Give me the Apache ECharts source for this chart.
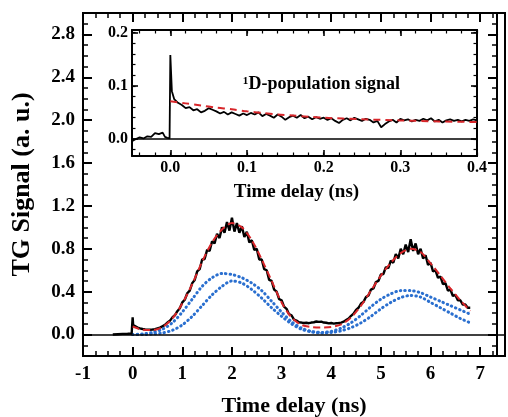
<!DOCTYPE html>
<html><head><meta charset="utf-8">
<script src="https://cdn.jsdelivr.net/npm/echarts@6/dist/echarts.min.js"></script>
<style>html,body{margin:0;padding:0;background:#fff}#c{width:508px;height:417px}</style>
</head><body><div id="c"></div>
<script>
// ---- tick labels ----
const mainTicksX = [-1, 0, 1, 2, 3, 4, 5, 6, 7];
const mainTicksY = [0, 0.4, 0.8, 1.2, 1.6, 2.0, 2.4, 2.8];
const insetTicksX = [0, 0.1, 0.2, 0.3, 0.4];
const insetTicksY = [0, 0.1, 0.2];

// ---- main panel: measured TG signal (black) [t, y] ----
const mainSignal = [
[-0.40,0.000],[-0.30,0.003],[-0.20,0.006],[-0.10,0.008],[-0.02,0.010],[0.00,0.160],[0.01,0.090],
[0.05,0.075],[0.10,0.065],[0.15,0.058],[0.20,0.052],[0.25,0.048],[0.30,0.046],[0.35,0.045],
[0.40,0.047],[0.45,0.050],[0.50,0.058],[0.55,0.065],[0.60,0.078],[0.65,0.090],[0.70,0.112],
[0.75,0.128],[0.80,0.160],[0.85,0.180],[0.90,0.218],[0.95,0.245],[1.00,0.300],[1.05,0.325],
[1.10,0.385],[1.15,0.410],[1.20,0.480],[1.25,0.510],[1.30,0.590],[1.35,0.610],[1.40,0.700],
[1.45,0.705],[1.50,0.790],[1.55,0.780],[1.60,0.870],[1.65,0.850],[1.70,0.940],[1.75,0.900],
[1.80,1.000],[1.85,0.950],[1.90,1.050],[1.95,0.970],[2.00,1.090],[2.05,0.960],[2.10,1.040],
[2.15,0.950],[2.20,1.010],[2.25,0.910],[2.30,0.960],[2.35,0.860],[2.40,0.880],[2.45,0.790],
[2.50,0.800],[2.55,0.700],[2.60,0.700],[2.65,0.610],[2.70,0.600],[2.75,0.510],[2.80,0.500],
[2.85,0.420],[2.90,0.400],[2.95,0.330],[3.00,0.320],[3.05,0.260],[3.10,0.240],[3.15,0.190],
[3.20,0.180],[3.25,0.140],[3.30,0.130],[3.35,0.115],[3.40,0.112],[3.45,0.108],[3.50,0.110],
[3.55,0.106],[3.60,0.112],[3.65,0.115],[3.70,0.122],[3.75,0.118],[3.80,0.120],[3.85,0.112],
[3.90,0.110],[3.95,0.104],[4.00,0.108],[4.05,0.102],[4.10,0.105],[4.15,0.108],[4.20,0.112],
[4.25,0.120],[4.30,0.135],[4.35,0.150],[4.40,0.175],[4.45,0.195],[4.50,0.230],[4.55,0.250],
[4.60,0.290],[4.65,0.305],[4.70,0.350],[4.75,0.365],[4.80,0.420],[4.85,0.430],[4.90,0.490],
[4.95,0.500],[5.00,0.560],[5.05,0.565],[5.10,0.630],[5.15,0.620],[5.20,0.690],[5.25,0.670],
[5.30,0.750],[5.35,0.710],[5.40,0.800],[5.45,0.750],[5.50,0.840],[5.55,0.770],[5.60,0.890],
[5.65,0.780],[5.70,0.850],[5.75,0.750],[5.80,0.800],[5.85,0.710],[5.90,0.740],[5.95,0.650],
[6.00,0.670],[6.05,0.590],[6.10,0.600],[6.15,0.530],[6.20,0.540],[6.25,0.470],[6.30,0.480],
[6.35,0.410],[6.40,0.420],[6.45,0.360],[6.50,0.370],[6.55,0.320],[6.60,0.320],[6.65,0.280],
[6.70,0.280],[6.75,0.250],[6.80,0.250]
];

// ---- main panel: fit (red dashed) and two components (blue dotted) ----
const fitT = [0.0,0.2,0.4,0.6,0.8,1.0,1.2,1.4,1.6,1.8,2.0,2.2,2.4,2.6,2.8,3.0,3.2,3.4,3.6,3.8,4.0,4.2,4.4,4.6,4.8,5.0,5.2,5.4,5.6,5.8,6.0,6.2,6.4,6.6,6.8];
const fitTotal = [0.075,0.045,0.042,0.070,0.150,0.290,0.470,0.680,0.860,0.980,1.040,1.000,0.880,0.700,0.500,0.300,0.160,0.090,0.070,0.065,0.070,0.095,0.160,0.270,0.410,0.550,0.670,0.760,0.800,0.770,0.665,0.550,0.430,0.320,0.220];
const compA = [0.000,0.005,0.020,0.050,0.110,0.210,0.330,0.450,0.530,0.570,0.560,0.530,0.480,0.410,0.310,0.210,0.120,0.060,0.030,0.020,0.030,0.060,0.110,0.180,0.260,0.330,0.380,0.410,0.410,0.390,0.350,0.310,0.270,0.230,0.190];
const compB = [0.000,0.000,0.005,0.015,0.040,0.090,0.170,0.270,0.370,0.450,0.500,0.480,0.420,0.340,0.250,0.170,0.100,0.050,0.025,0.015,0.020,0.035,0.065,0.110,0.170,0.240,0.300,0.345,0.365,0.350,0.300,0.250,0.200,0.150,0.110];

// ---- inset: 1D-population signal (black) [t, y] ----
const insetSignal = [
[-0.050,-0.004],[-0.045,0.000],[-0.040,0.003],[-0.035,0.001],[-0.030,0.005],[-0.025,0.004],
[-0.020,0.011],[-0.015,0.009],[-0.010,0.012],[-0.007,0.004],[-0.004,0.002],[-0.001,0.001],
[0.000,0.158],[0.002,0.090],[0.005,0.075],[0.010,0.068],[0.015,0.064],[0.020,0.058],[0.025,0.060],
[0.030,0.054],[0.035,0.056],[0.040,0.050],[0.045,0.053],[0.050,0.058],[0.055,0.055],[0.060,0.052],
[0.065,0.048],[0.070,0.051],[0.075,0.046],[0.080,0.050],[0.085,0.047],[0.090,0.044],[0.095,0.048],
[0.100,0.045],[0.105,0.049],[0.110,0.046],[0.115,0.050],[0.120,0.043],[0.125,0.047],[0.130,0.044],
[0.135,0.040],[0.140,0.046],[0.145,0.042],[0.150,0.036],[0.155,0.041],[0.160,0.044],[0.165,0.040],
[0.170,0.045],[0.175,0.039],[0.180,0.042],[0.185,0.037],[0.190,0.041],[0.195,0.038],[0.200,0.040],
[0.205,0.036],[0.210,0.039],[0.215,0.034],[0.220,0.030],[0.225,0.036],[0.230,0.039],[0.235,0.035],
[0.240,0.040],[0.245,0.037],[0.250,0.034],[0.255,0.038],[0.260,0.036],[0.265,0.031],[0.270,0.034],
[0.275,0.022],[0.280,0.028],[0.285,0.033],[0.290,0.036],[0.295,0.031],[0.300,0.038],[0.305,0.035],
[0.310,0.037],[0.315,0.033],[0.320,0.036],[0.325,0.034],[0.330,0.038],[0.335,0.035],[0.340,0.039],
[0.345,0.033],[0.350,0.036],[0.355,0.031],[0.360,0.035],[0.365,0.037],[0.370,0.034],[0.375,0.036],
[0.380,0.033],[0.385,0.036],[0.390,0.034],[0.395,0.037],[0.400,0.035]
];
const insetFitT = [0.00,0.02,0.04,0.06,0.08,0.10,0.12,0.14,0.16,0.18,0.20,0.25,0.30,0.35,0.40];
const insetFit = [0.071,0.067,0.063,0.059,0.056,0.052,0.049,0.046,0.044,0.042,0.040,0.037,0.035,0.033,0.032];

// ---- layout ----
const FONT = "'Liberation Serif','DejaVu Serif',serif";
const FR_MAIN = { left: 83, top: 13, width: 422, height: 343, xr: [-1, 7.5], yr: [-0.2, 3.0] };
const FR_INSET = { left: 132, top: 30, width: 345, height: 126, xr: [-0.05, 0.4], yr: [-0.032, 0.205] };

function pairs(xs, ys) { return xs.map((x, i) => [x, ys[i]]); }
function inList(list, v) { return list.some(m => Math.abs(m - v) < 1e-6); }

const grids = [], xAxes = [], yAxes = [];
const LINE = { show: true, onZero: false, lineStyle: { color: '#000', width: 2 } };

// data grids: frame lines and axis titles (kept at their exact size)
function dataGrid(F, o) {
  const gi = grids.length;
  grids.push({ left: F.left, top: F.top, width: F.width, height: F.height, outerBoundsMode: 'none', containLabel: false });
  const ax = (pos, r, name, gap, nsize, pad) => ({
    type: 'value', gridIndex: gi, position: pos, min: r[0], max: r[1],
    name: name, nameLocation: 'middle', nameGap: gap,
    nameTextStyle: { fontFamily: FONT, fontWeight: 'bold', fontSize: nsize, color: '#000', padding: pad || 0 },
    axisLine: LINE, axisTick: { show: false }, axisLabel: { show: false }, splitLine: { show: false }
  });
  xAxes.push(ax('bottom', F.xr, o.xName, o.xGap, o.xNameSize, o.xPad));
  xAxes.push(ax('top', F.xr, '', 0, 10));
  yAxes.push(ax('left', F.yr, o.yName, o.yGap, o.yNameSize));
  yAxes.push(ax('right', F.yr, '', 0, 10));
}

// tick grids: same pixel scale as the frame, range starting on a multiple of the interval,
// so the library's own axis ticks / labels land on the right values
function tickGrid(kind, F, range, interval, len, lw, labels) {
  const gi = grids.length;
  const ax = (pos, showText) => ({
    type: 'value', gridIndex: gi, position: pos, min: range[0], max: range[1], interval: interval,
    axisLine: LINE, splitLine: { show: false },
    axisTick: { show: true, inside: true, length: len, lineStyle: { color: '#000', width: lw } },
    axisLabel: {
      show: true, margin: labels ? labels.margin : 8,
      formatter: v => (showText && labels && inList(labels.values, v)) ? labels.fmt(v) : '',
      fontFamily: FONT, fontWeight: 'bold', fontSize: labels ? labels.size : 10, color: '#000'
    }
  });
  const dummy = { type: 'value', gridIndex: gi, show: false, min: 0, max: 1 };
  if (kind === 'x') {
    const pxu = F.width / (F.xr[1] - F.xr[0]);
    grids.push({ left: F.left + (range[0] - F.xr[0]) * pxu, width: (range[1] - range[0]) * pxu,
      top: F.top, height: F.height });
    xAxes.push(ax('bottom', true)); xAxes.push(ax('top', false)); yAxes.push(dummy);
  } else {
    const pxu = F.height / (F.yr[1] - F.yr[0]);
    grids.push({ top: F.top + (F.yr[1] - range[1]) * pxu, height: (range[1] - range[0]) * pxu,
      left: F.left, width: F.width });
    yAxes.push(ax('left', true)); yAxes.push(ax('right', false)); xAxes.push(dummy);
  }
}

dataGrid(FR_MAIN, { xName: 'Time delay (ns)', xGap: 39, xNameSize: 22,
  yName: 'TG Signal (a. u.)', yGap: 48, yNameSize: 26 });
dataGrid(FR_INSET, { xName: 'Time delay (ns)', xGap: 27, xNameSize: 19, xPad: [0, 16, 0, 0],
  yName: '', yGap: 10, yNameSize: 10 });

tickGrid('x', FR_MAIN, [-1, 7.5], 1, 9, 2,
  { values: mainTicksX, fmt: v => String(Math.round(v)), size: 19, margin: 9 });
tickGrid('x', FR_MAIN, [-1, 7.5], 0.25, 5, 1.5, null);
tickGrid('y', FR_MAIN, [0, 2.8], 0.4, 9, 2,
  { values: mainTicksY, fmt: v => v.toFixed(1), size: 19, margin: 8 });
tickGrid('y', FR_MAIN, [-0.2, 3.0], 0.1, 5, 1.5, null);
tickGrid('x', FR_INSET, [0, 0.4], 0.1, 6, 1.6,
  { values: insetTicksX, fmt: v => v.toFixed(1), size: 16, margin: 4 });
tickGrid('x', FR_INSET, [-0.04, 0.4], 0.02, 3.5, 1.2, null);
tickGrid('y', FR_INSET, [0, 0.2], 0.1, 6, 1.6,
  { values: insetTicksY, fmt: v => v.toFixed(1), size: 16, margin: 4 });
tickGrid('y', FR_INSET, [-0.02, 0.2], 0.02, 3.5, 1.2, null);

const zeroLine = {
  silent: true, symbol: 'none', label: { show: false },
  lineStyle: { color: '#000', width: 1.6, type: 'solid' },
  data: [{ yAxis: 0 }], animation: false
};

const option = {
  animation: false,
  backgroundColor: '#fff',
  grid: grids,
  xAxis: xAxes,
  yAxis: yAxes,
  graphic: [{
    type: 'text', left: 243, top: 75, z: 30,
    style: { text: '\u00B9D-population signal', fontFamily: FONT, fontWeight: 'bold', fontSize: 18, fill: '#000' }
  }],
  series: [
    { type: 'line', xAxisIndex: 0, yAxisIndex: 0, data: pairs(fitT, compA), smooth: 0.3, showSymbol: false,
      lineStyle: { color: '#2a6fcf', width: 3, type: [0.5, 4], cap: 'round' }, markLine: zeroLine },
    { type: 'line', xAxisIndex: 0, yAxisIndex: 0, data: pairs(fitT, compB), smooth: 0.3, showSymbol: false,
      lineStyle: { color: '#2a6fcf', width: 3, type: [0.5, 4], cap: 'round' } },
    { type: 'line', xAxisIndex: 0, yAxisIndex: 0, data: mainSignal, showSymbol: false,
      lineStyle: { color: '#000', width: 2.4 } },
    { type: 'line', xAxisIndex: 0, yAxisIndex: 0, data: pairs(fitT, fitTotal), smooth: 0.3, showSymbol: false,
      lineStyle: { color: '#d8262a', width: 2, type: [7, 4] } },
    { type: 'line', xAxisIndex: 2, yAxisIndex: 2, data: insetSignal, showSymbol: false, z: 4,
      lineStyle: { color: '#000', width: 1.8 }, markLine: zeroLine },
    { type: 'line', xAxisIndex: 2, yAxisIndex: 2, data: pairs(insetFitT, insetFit), smooth: 0.3, showSymbol: false, z: 5,
      lineStyle: { color: '#d8262a', width: 2, type: [7, 5] } }
  ]
};
echarts.init(document.getElementById('c'), null, { renderer: 'canvas' }).setOption(option);
</script></body></html>
